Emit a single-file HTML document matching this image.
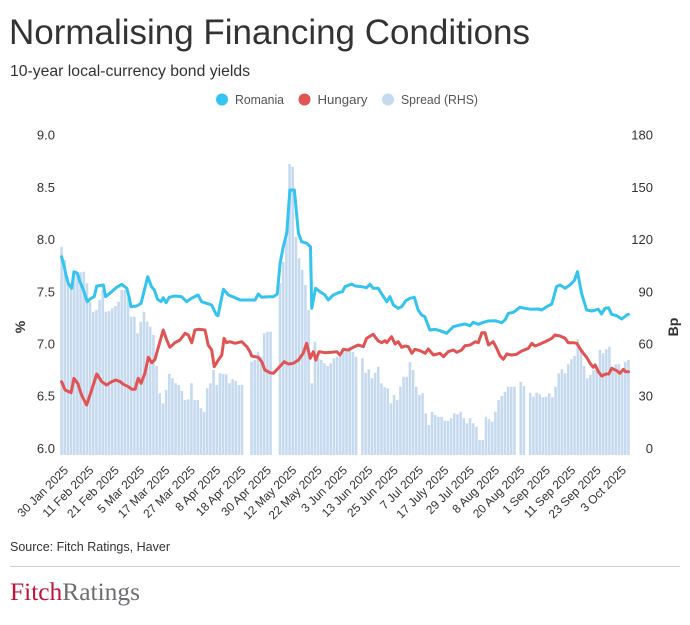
<!DOCTYPE html>
<html>
<head>
<meta charset="utf-8">
<style>
html,body{margin:0;padding:0;background:#fff;}
svg{display:block;}
text{font-family:"Liberation Sans",Arial,sans-serif;}
</style>
</head>
<body>
<svg width="690" height="625" viewBox="0 0 690 625" xmlns="http://www.w3.org/2000/svg">
<rect width="690" height="625" fill="#fff"/>
<text x="9" y="44" font-size="35" fill="#333" textLength="521" lengthAdjust="spacingAndGlyphs">Normalising Financing Conditions</text>
<text x="10" y="76" font-size="15.5" fill="#333" textLength="240" lengthAdjust="spacingAndGlyphs">10-year local-currency bond yields</text>

<circle cx="222" cy="99.5" r="6" fill="#35C3F0"/>
<text x="235" y="104" font-size="12.5" fill="#555" textLength="49" lengthAdjust="spacingAndGlyphs">Romania</text>
<circle cx="304.5" cy="99.5" r="6" fill="#E05454"/>
<text x="317.5" y="104" font-size="12.5" fill="#555" textLength="50" lengthAdjust="spacingAndGlyphs">Hungary</text>
<circle cx="388" cy="99.5" r="6" fill="#C6DAEF"/>
<text x="401" y="104" font-size="12.5" fill="#555" textLength="77" lengthAdjust="spacingAndGlyphs">Spread (RHS)</text>

<g font-size="13" fill="#333" text-anchor="end">
<text x="55" y="139.7">9.0</text>
<text x="55" y="191.9">8.5</text>
<text x="55" y="244.1">8.0</text>
<text x="55" y="296.3">7.5</text>
<text x="55" y="348.5">7.0</text>
<text x="55" y="400.7">6.5</text>
<text x="55" y="452.9">6.0</text>
<text x="653" y="139.7">180</text>
<text x="653" y="191.9">150</text>
<text x="653" y="244.1">120</text>
<text x="653" y="296.3">90</text>
<text x="653" y="348.5">60</text>
<text x="653" y="400.7">30</text>
<text x="653" y="452.9">0</text>
</g>
<text transform="translate(25,327) rotate(-90)" font-size="14" font-weight="bold" fill="#333" text-anchor="middle">%</text>
<text transform="translate(678,327) rotate(-90)" font-size="14" font-weight="bold" fill="#333" text-anchor="middle">Bp</text>

<g transform="translate(61.58,0) scale(3.1667,1)">
<path fill="#C6DAEF" d="M-0.41,455
v-208.3h.82v208.3m.18,0 v-195h.82v195m.18,0 v-175h.82v175m.18,0 v-170h.82v170m.18,0 v-181.7h.82v181.7m.18,0
v-180h.82v180m.18,0 v-182.7h.82v182.7m.18,0 v-183.3h.82v183.3m.18,0 v-171.7h.82v171.7m.18,0 v-153.3h.82v153.3m.18,0
v-143.3h.82v143.3m.18,0 v-145h.82v145m.18,0 v-155h.82v155m.18,0 v-165h.82v165m.18,0 v-143.3h.82v143.3m.18,0
v-144h.82v144m.18,0 v-146.7h.82v146.7m.18,0 v-149h.82v149m.18,0 v-153.3h.82v153.3m.18,0 v-165h.82v165m.18,0
v-165h.82v165m.18,0 v-158.3h.82v158.3m.18,0 v-138.3h.82v138.3m.18,0 v-138.3h.82v138.3m.18,0 v-121.7h.82v121.7m.18,0
v-133.3h.82v133.3m.18,0 v-143.3h.82v143.3m.18,0 v-133.3h.82v133.3m.18,0 v-128.3h.82v128.3m.18,0 v-120h.82v120m.18,0
v-89h.82v89m.18,0 v-61.7h.82v61.7m.18,0 v-51.7h.82v51.7m.18,0 v-65h.82v65m.18,0 v-81h.82v81m.18,0
v-76.7h.82v76.7m.18,0 v-71.7h.82v71.7m.18,0 v-70h.82v70m.18,0 v-64.3h.82v64.3m.18,0 v-55h.82v55m.18,0
v-55.7h.82v55.7m.18,0 v-71.7h.82v71.7m.18,0 v-55h.82v55m.18,0 v-55h.82v55m.18,0 v-46.7h.82v46.7m.18,0
v-43.3h.82v43.3m.18,0 v-66.7h.82v66.7m.18,0 v-71.7h.82v71.7m.18,0 v-85h.82v85m.18,0 v-70h.82v70m.18,0
v-81.7h.82v81.7m.18,0 v-81h.82v81m.18,0 v-80.7h.82v80.7m.18,0 v-71.7h.82v71.7m.18,0 v-75.7h.82v75.7m.18,0
v-74h.82v74m.18,0 v-70h.82v70m.18,0 v-70h.82v70m.18,0 m1,0 m1,0
v-93.3h.82v93.3m.18,0 v-95h.82v95m.18,0 v-103.3h.82v103.3m.18,0 v-98.3h.82v98.3m.18,0 v-121.7h.82v121.7m.18,0
v-123.3h.82v123.3m.18,0 v-123.3h.82v123.3m.18,0 m1,0 m1,0 v-171.7h.82v171.7m.18,0
v-193.3h.82v193.3m.18,0 v-215h.82v215m.18,0 v-291h.82v291m.18,0 v-288.3h.82v288.3m.18,0 v-218.3h.82v218.3m.18,0
v-196.7h.82v196.7m.18,0 v-185h.82v185m.18,0 v-170h.82v170m.18,0 v-145h.82v145m.18,0 v-71.7h.82v71.7m.18,0
v-113.3h.82v113.3m.18,0 v-96.7h.82v96.7m.18,0 v-95h.82v95m.18,0 v-91.7h.82v91.7m.18,0 v-89h.82v89m.18,0
v-91.7h.82v91.7m.18,0 v-96.7h.82v96.7m.18,0 v-98.3h.82v98.3m.18,0 v-100h.82v100m.18,0 v-103.3h.82v103.3m.18,0
v-106.7h.82v106.7m.18,0 v-108.3h.82v108.3m.18,0 v-103.3h.82v103.3m.18,0 v-98.3h.82v98.3m.18,0 m1,0
v-96.7h.82v96.7m.18,0 v-82.3h.82v82.3m.18,0 v-85.7h.82v85.7m.18,0 v-76.7h.82v76.7m.18,0 v-82.3h.82v82.3m.18,0
v-88.3h.82v88.3m.18,0 v-71.7h.82v71.7m.18,0 v-67.7h.82v67.7m.18,0 v-66.7h.82v66.7m.18,0 v-51.7h.82v51.7m.18,0
v-60h.82v60m.18,0 v-55h.82v55m.18,0 v-68.3h.82v68.3m.18,0 v-78.3h.82v78.3m.18,0 v-78.3h.82v78.3m.18,0
v-92.7h.82v92.7m.18,0 v-85h.82v85m.18,0 v-68.3h.82v68.3m.18,0 v-60h.82v60m.18,0 v-61.7h.82v61.7m.18,0
v-41.7h.82v41.7m.18,0 v-30h.82v30m.18,0 v-43.3h.82v43.3m.18,0 v-40h.82v40m.18,0 v-38.3h.82v38.3m.18,0
v-38.3h.82v38.3m.18,0 v-34.3h.82v34.3m.18,0 v-34.3h.82v34.3m.18,0 v-36.7h.82v36.7m.18,0 v-41.7h.82v41.7m.18,0
v-40.7h.82v40.7m.18,0 v-43.3h.82v43.3m.18,0 v-36.7h.82v36.7m.18,0 v-31.7h.82v31.7m.18,0 v-36.7h.82v36.7m.18,0
v-31.7h.82v31.7m.18,0 v-28.3h.82v28.3m.18,0 v-15h.82v15m.18,0 v-15h.82v15m.18,0 v-38.3h.82v38.3m.18,0
v-35.7h.82v35.7m.18,0 v-33.3h.82v33.3m.18,0 v-43.3h.82v43.3m.18,0 v-55h.82v55m.18,0 v-59h.82v59m.18,0
v-63.3h.82v63.3m.18,0 v-68.3h.82v68.3m.18,0 v-68.3h.82v68.3m.18,0 v-68.3h.82v68.3m.18,0 m1,0
v-73.3h.82v73.3m.18,0 v-69h.82v69m.18,0 m1,0 v-62.3h.82v62.3m.18,0 v-58.3h.82v58.3m.18,0
v-62.3h.82v62.3m.18,0 v-60.7h.82v60.7m.18,0 v-57.7h.82v57.7m.18,0 v-58.3h.82v58.3m.18,0 v-61.7h.82v61.7m.18,0
v-57.7h.82v57.7m.18,0 v-68.3h.82v68.3m.18,0 v-81.7h.82v81.7m.18,0 v-85.7h.82v85.7m.18,0 v-81.7h.82v81.7m.18,0
v-90.7h.82v90.7m.18,0 v-95.7h.82v95.7m.18,0 v-99h.82v99m.18,0 v-115.7h.82v115.7m.18,0 v-105.7h.82v105.7m.18,0
v-89h.82v89m.18,0 v-76.7h.82v76.7m.18,0 v-80h.82v80m.18,0 v-85h.82v85m.18,0 v-88.3h.82v88.3m.18,0
v-105h.82v105m.18,0 v-101.7h.82v101.7m.18,0 v-105.7h.82v105.7m.18,0 v-108.3h.82v108.3m.18,0 v-88.3h.82v88.3m.18,0
v-90.7h.82v90.7m.18,0 v-90.7h.82v90.7m.18,0 v-85.7h.82v85.7m.18,0 v-93.3h.82v93.3m.18,0 v-95h.82v95m.18,0"/>

<polyline fill="none" stroke="#35C3F0" stroke-width="3" stroke-linejoin="round" stroke-linecap="round" vector-effect="non-scaling-stroke" points="0,256.7 0.7,265 1.4,275 2.1,283.3 3.2,288.3 3.9,271.7 5,273.3 5.8,281.7 6.9,290 8.1,301.7 9.3,298.3 10.3,296.7 11.1,286 13.2,285 13.9,296.7 15.8,291.7 17.4,287.3 19,284.3 20.6,288.3 21.3,296.7 21.9,306.7 23.7,306 25.1,303.3 26.3,288.3 27.2,276.7 28.4,286.7 29.3,290 30.3,299.3 31.4,301.7 32.1,297.7 33,302.7 34,297.3 35.8,296 37.9,296.7 39.5,301.7 41,298.3 43.1,295 44.2,301.7 45.8,303.3 47.4,305 48.9,315 49.4,315.7 51.1,289.3 52.7,295 54.8,297.7 56.4,300 57.9,300 61.1,300 62.1,294 63.2,297.3 65.3,296.7 66.9,296.7 68.1,294 69,263.3 70,246.7 71.1,233.3 72.1,190 73.5,190 74.8,233.3 75.8,241.7 77.4,243.3 78.6,246.7 79,308.3 80.2,288.3 81.6,291.7 83.2,295 84.2,300 85.8,295 87.4,292.7 88.7,291.7 89.5,286.7 91.6,284 92.7,286 94.8,286.7 96.3,287.7 97.4,284.3 98.4,288.3 100,288.3 101.3,295 102.7,301.7 103.7,296.7 104.8,305 106.3,308.3 107.4,306.7 108.7,300.7 110,298.3 111.4,297.3 112.6,310 113.7,315 114.7,316.7 116.3,330 117.9,329.3 119.5,330.7 121.6,333.3 123.7,326.7 125.8,325 127.4,324 129,325.7 130,322.3 131.6,324.3 133.2,322.3 134.8,321 136.9,320.7 139,322.7 140,320 141.1,313.3 142.7,312.3 144.7,307.3 146.3,308.3 148.4,309.3 150.5,309 151.6,310 153.2,306.7 154.8,304 156.3,286.7 157.4,285 159,288.3 160.5,285 161.9,280.7 162.9,271.7 164.2,293.3 165.8,310 167.4,311 169.5,309.3 170.5,314 171.6,308.3 172.7,307.7 173.7,314.3 175.3,315.7 176.9,319 178.5,315 179,314.3"/>

<polyline fill="none" stroke="#E05454" stroke-width="3" stroke-linejoin="round" stroke-linecap="round" vector-effect="non-scaling-stroke" points="0,381.7 1.1,390 3,392.7 3.9,378.3 5.1,383.3 6.3,395 7.9,405 9.5,390 11.1,374 12.7,381.7 14.2,385 15.8,381.7 17.1,380 18.5,381.7 19.5,384.3 21.1,386.7 22.2,389.3 23.2,389.3 24.2,378.3 25.1,383.3 26.3,373.3 27.4,357.3 28.5,362.7 29.5,359.3 30.6,346.7 32.1,330 33.2,340 34.2,347.3 35.8,342.7 37.4,340 39,333.3 40,335 41.1,342.7 42.1,330 43.2,329.3 45.3,330 46.3,345 47.4,350 48.2,366.7 49.5,360 50.6,355 51.3,338.3 52.1,342.7 53.1,341.7 54.8,343.3 56.9,341.7 58.5,346.7 59.5,351.7 60,356 62.1,357.3 63.2,361.7 64.2,370 65.8,372.7 66.9,373.3 68.4,368.3 70.3,361.7 71.6,364 73.2,363.3 74.8,360 76.3,353.3 77.4,343.3 78.5,358.3 79.5,351.7 80.3,360 81.3,351.7 83.2,352.7 85.3,352.3 86.9,351.7 87.9,355 89,349.3 90.6,350 92.1,347.3 93.7,345 95.3,346.7 96.3,338.3 98.4,334.3 100,341 101.1,342.7 102.1,340.7 102.7,342.7 104.2,336.7 105.3,344 106.3,341.7 107.4,347.3 108.5,346 109.5,346.7 110.6,353.3 111.6,349.3 113.2,350.7 114.8,353.3 115.8,349 117.4,355 119.5,353.3 120.6,356.7 122.1,351.7 123.7,350 124.8,352.3 126.3,350 127.4,345.7 129,345 130.6,341.7 131.6,342.7 132.7,332.7 133.7,332.7 134.8,345 136.3,341.7 137.4,348.3 138.5,356 139.5,359.3 140.6,354 142.1,355 143.7,354.3 145.3,351 147.4,348.3 148.5,343.3 149.5,346 151.1,344 153.2,341 154.8,338.3 155.8,335 157.4,336 159,338.3 160,342.7 161.6,342.7 162.7,343.3 164.2,351 165.8,357.3 166.9,363.3 167.9,367.3 168.5,365 169.5,371.7 170.6,376 171.8,374 172.8,374 173.7,368.3 175.3,370.7 176.3,373.3 177.4,369.3 178.1,371.7 179,371.7"/>
</g>

<g font-size="12" fill="#333" text-anchor="end">
<text transform="translate(69,471) rotate(-45)">30 Jan 2025</text>
<text transform="translate(94.4,471) rotate(-45)">11 Feb 2025</text>
<text transform="translate(119.7,471) rotate(-45)">21 Feb 2025</text>
<text transform="translate(145.1,471) rotate(-45)">5 Mar 2025</text>
<text transform="translate(170.4,471) rotate(-45)">17 Mar 2025</text>
<text transform="translate(195.8,471) rotate(-45)">27 Mar 2025</text>
<text transform="translate(221.2,471) rotate(-45)">8 Apr 2025</text>
<text transform="translate(246.5,471) rotate(-45)">18 Apr 2025</text>
<text transform="translate(271.9,471) rotate(-45)">30 Apr 2025</text>
<text transform="translate(297.2,471) rotate(-45)">12 May 2025</text>
<text transform="translate(322.6,471) rotate(-45)">22 May 2025</text>
<text transform="translate(348,471) rotate(-45)">3 Jun 2025</text>
<text transform="translate(373.3,471) rotate(-45)">13 Jun 2025</text>
<text transform="translate(398.7,471) rotate(-45)">25 Jun 2025</text>
<text transform="translate(424,471) rotate(-45)">7 Jul 2025</text>
<text transform="translate(449.4,471) rotate(-45)">17 July 2025</text>
<text transform="translate(474.8,471) rotate(-45)">29 Jul 2025</text>
<text transform="translate(500.1,471) rotate(-45)">8 Aug 2025</text>
<text transform="translate(525.5,471) rotate(-45)">20 Aug 2025</text>
<text transform="translate(550.8,471) rotate(-45)">1 Sep 2025</text>
<text transform="translate(576.2,471) rotate(-45)">11 Sep 2025</text>
<text transform="translate(601.6,471) rotate(-45)">23 Sep 2025</text>
<text transform="translate(626.9,471) rotate(-45)">3 Oct 2025</text>
</g>

<text x="10" y="551" font-size="12.5" fill="#333" textLength="160" lengthAdjust="spacingAndGlyphs">Source: Fitch Ratings, Haver</text>
<rect x="10" y="566" width="670" height="1" fill="#cfcfcf"/>
<text x="10" y="600" font-size="25" font-family="Liberation Serif, serif" textLength="130" lengthAdjust="spacingAndGlyphs" style="font-family:'Liberation Serif',serif;"><tspan fill="#C0143C">Fitch</tspan><tspan fill="#6D6E71">Ratings</tspan></text>
</svg>
</body>
</html>
